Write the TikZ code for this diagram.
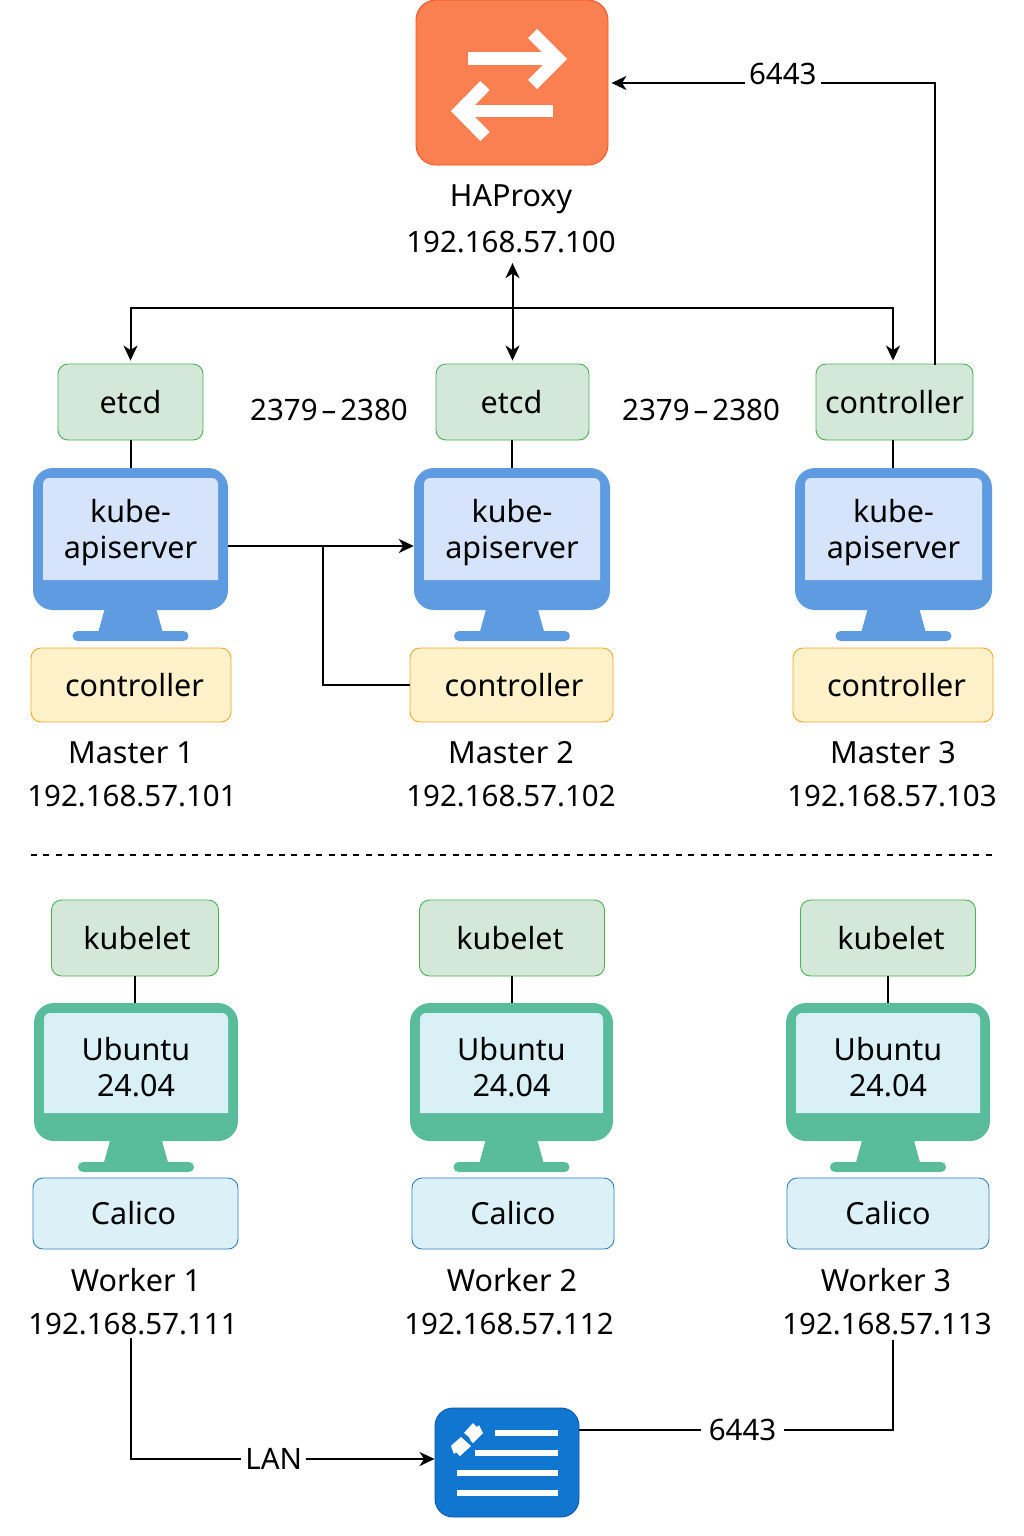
\documentclass[tikz,border=0pt]{standalone}
\usepackage{fontspec}
\setmainfont{Noto Sans}
\usetikzlibrary{arrows.meta,calc}

\definecolor{greenfill}{HTML}{D3E8D9}
\definecolor{greenline}{HTML}{4CAF50}
\definecolor{yellowfill}{HTML}{FFF1C9}
\definecolor{yellowline}{HTML}{F5A623}
\definecolor{skyfill}{HTML}{DCF0F7}
\definecolor{skyline}{HTML}{2E7FBF}
\definecolor{masterbody}{HTML}{5F9BE0}
\definecolor{masterscreen}{HTML}{D6E4FB}
\definecolor{workerbody}{HTML}{59BC9A}
\definecolor{workerscreen}{HTML}{DAF0F7}
\definecolor{orangefill}{HTML}{FA7F51}
\definecolor{orangeline}{HTML}{F4511E}
\definecolor{gatefill}{HTML}{1176D0}
\definecolor{gateline}{HTML}{0A55B0}

\tikzset{
    label text/.style={font=\fontsize{29.5}{36}\selectfont, inner sep=0pt, align=center},
    word text/.style={font=\fontsize{30.5}{36}\selectfont, inner sep=0pt, align=center},
    service/.style={word text, rounded corners=10pt, line width=.9pt},
    green box/.style={service, draw=greenline, fill=greenfill},
    yellow box/.style={service, draw=yellowline, fill=yellowfill},
    sky box/.style={service, draw=skyline, fill=skyfill},
    conn/.style={line width=2pt, black},
    arrowed/.style={conn, shorten >=3pt, -{Stealth[length=15pt,width=14pt,inset=4.5pt]}},
    both arrowed/.style={arrowed, {Stealth[length=15pt,width=14pt,inset=4.5pt]}-{Stealth[length=15pt,width=14pt,inset=4.5pt]}},
    white icon/.style={white, line width=13pt, miter limit=10},
    port/.style={label text, fill=white, inner xsep=4pt, inner ysep=2pt},
}

% name, left, right, top, bottom, body colour, screen colour, screen gap, screen text
\newcommand{\monitor}[9]{
    \pgfmathsetmacro{\mx}{(#2+#3)/2}
    \fill[#6] (\mx-25,#5-4) -- (\mx-33,#5+25) -- (\mx+33,#5+25) -- (\mx+25,#5-4) -- cycle;
    \fill[#6, rounded corners=5pt] (\mx-58,#5+21) rectangle (\mx+58,#5+31);
    \node[fill=#6, rounded corners=20pt, inner sep=0pt,
        minimum width={#3-#2}, minimum height={#5-#4}] (#1) at (\mx,{(#4+#5)/2}) {};
    \fill[#7] (#2+10,#5-#8) [rounded corners=6pt] -- (#2+10,#4+10) -- (#3-10,#4+10) [sharp corners] -- (#3-10,#5-#8) -- cycle;
    \node[word text] (#1text) at (\mx,{(#4+#5-#8+10)/2+4}) {#9};
}

\begin{document}
\begin{tikzpicture}[x=1pt, y=-1pt]
    \useasboundingbox (0,0) rectangle (1024,1536);

    % load balancer
    \node[draw=orangeline, fill=orangefill, rounded corners=20pt, line width=.9pt, inner sep=0pt,
        minimum width=192pt, minimum height=165pt] (haproxy) at (512,82.5) {};
    \draw[white icon] (468,59) -- (558,59);
    \draw[white icon] (532.5,33.5) -- (558,59) -- (532.5,84.5);
    \draw[white icon, line width=12.5pt] (553,111) -- (460,111);
    \draw[white icon] (485,85.5) -- (460,111) -- (485,136.5);
    \node[word text] (haname) at (511,199) {HAProxy};
    \node[label text] (haip) at (511,242) {192.168.57.100};

    % masters
    \node[green box, minimum width=145pt, minimum height=76pt] (etcdone) at (130.5,402) {etcd};
    \node[green box, minimum width=153pt, minimum height=76pt] (etcdtwo) at (512.5,402) {\kern-2pt etcd};
    \node[green box, minimum width=157pt, minimum height=76pt] (ctrlgreen) at (894.5,402) {controller};

    \monitor{kubeone}{33}{228}{468}{610}{masterbody}{masterscreen}{30}{kube-\\apiserver}
    \monitor{kubetwo}{414}{610}{468}{610}{masterbody}{masterscreen}{30}{kube-\\apiserver}
    \monitor{kubethree}{795}{992}{468}{610}{masterbody}{masterscreen}{30}{kube-\\apiserver}

    \node[yellow box, minimum width=200pt, minimum height=74pt] (ctrlone) at (131,685) {\kern7pt controller};
    \node[yellow box, minimum width=203pt, minimum height=74pt] (ctrltwo) at (511.5,685) {\kern5pt controller};
    \node[yellow box, minimum width=200pt, minimum height=74pt] (ctrlthree) at (893,685) {\kern7pt controller};

    \node[word text] (mastername1) at (131,753) {Master 1};
    \node[word text] (mastername2) at (511,753) {Master 2};
    \node[word text] (mastername3) at (893,753) {Master 3};
    \node[label text] (masterip1) at (132,796) {192.168.57.101};
    \node[label text] (masterip2) at (511,796) {192.168.57.102};
    \node[label text] (masterip3) at (892,796) {192.168.57.103};

    \node[label text] (portone) at (329,410) {2379\kern4pt--\kern4pt 2380};
    \node[label text] (porttwo) at (701,410) {2379\kern4pt--\kern4pt 2380};

    \coordinate (dashleft) at (31,855);
    \coordinate (dashright) at (993,855);
    \draw[line width=1.2pt, dash pattern=on 6pt off 6.4pt] (dashleft) -- (dashright);

    % workers
    \node[green box, minimum width=167pt, minimum height=76pt] (kubeletone) at (135,938) {\kern4pt kubelet};
    \node[green box, minimum width=185pt, minimum height=76pt] (kubelettwo) at (512,938) {\kern-4pt kubelet};
    \node[green box, minimum width=175pt, minimum height=76pt] (kubeletthree) at (888,938) {\kern6pt kubelet};

    \monitor{ubuone}{34}{238}{1003}{1141}{workerbody}{workerscreen}{28}{Ubuntu\\24.04}
    \monitor{ubutwo}{410}{613}{1003}{1141}{workerbody}{workerscreen}{28}{Ubuntu\\24.04}
    \monitor{ubuthree}{786}{990}{1003}{1141}{workerbody}{workerscreen}{28}{Ubuntu\\24.04}

    \node[sky box, minimum width=205pt, minimum height=71pt] (calicoone) at (135.5,1213.5) {\kern-4pt Calico};
    \node[sky box, minimum width=202pt, minimum height=71pt] (calicotwo) at (513,1213.5) {Calico};
    \node[sky box, minimum width=202pt, minimum height=71pt] (calicothree) at (888,1213.5) {Calico};

    \node[word text] (workername1) at (136,1280) {Worker 1};
    \node[word text] (workername2) at (512,1280) {Worker 2};
    \node[word text] (workername3) at (886,1280) {Worker 3};
    \node[label text] (workerip1) at (133,1324) {192.168.57.111};
    \node[label text] (workerip2) at (509,1324) {192.168.57.112};
    \node[label text] (workerip3) at (887,1324) {192.168.57.113};

    % gateway
    \node[draw=gateline, fill=gatefill, rounded corners=18pt, line width=.9pt, inner sep=0pt,
        minimum width=144pt, minimum height=109pt] (gateway) at (507,1462.5) {};
    \draw[white, line width=6pt] (495,1433) -- (558,1433);
    \draw[white, line width=6pt] (475,1453) -- (558,1453);
    \draw[white, line width=6pt] (457,1473) -- (558,1473);
    \draw[white, line width=6pt] (457,1493) -- (558,1493);
    \fill[white] (473,1423) -- (477,1427) -- (479,1425) -- (483,1433) -- (473,1443) -- (471,1441) -- (469,1437) -- (464,1433) -- cycle;
    \fill[white] (461,1437) -- (471,1446) -- (460,1456) -- (456,1452) -- (454,1454) -- (451,1446) -- (453,1444) -- cycle;

    % connectors
    \draw[arrowed] ([xshift=40.5pt,yshift=-1pt]ctrlgreen.north) |- ([yshift=-.5pt]haproxy.east) node[port, pos=.733, yshift=9pt] (portha) {6443};
    \draw[both arrowed] ([yshift=-10pt]haip.south -| etcdtwo.north) -- (etcdtwo.north);
    \coordinate (busmid) at (512,308);
    \draw[arrowed] (busmid) -| (etcdone.north);
    \draw[arrowed] (busmid) -| ([xshift=-1.5pt]ctrlgreen.north);
    \draw[conn] (etcdone.south) -- (etcdone.south |- kubeone.north);
    \draw[conn] ([xshift=-.5pt]etcdtwo.south) -- ([xshift=-.5pt]etcdtwo.south |- kubetwo.north);
    \draw[conn] ([xshift=-1.5pt]ctrlgreen.south) -- ([xshift=-1.5pt]ctrlgreen.south |- kubethree.north);
    \draw[arrowed, shorten >=0pt] (kubeone.east |- 0,546) -- (kubetwo.west |- 0,546);
    \draw[conn] (ctrltwo.west) -| (323,546);
    \draw[conn] (kubeletone.south) -- (ubuone.north -| kubeletone.south);
    \draw[conn] (kubelettwo.south) -- (ubutwo.north -| kubelettwo.south);
    \draw[conn] (kubeletthree.south) -- (ubuthree.north -| kubeletthree.south);
    \draw[arrowed, shorten >=0pt] ([xshift=-2pt,yshift=-3pt]workerip1.south) |- ([yshift=3.5pt]gateway.west) node[port, pos=.735] (lanport) {LAN};
    \draw[conn] ([yshift=32.5pt]gateway.east) -| ([xshift=6pt,yshift=-5pt]workerip3.south) node[port, pos=.26, inner xsep=8pt] (portgate) {6443};
\end{tikzpicture}
\end{document}
